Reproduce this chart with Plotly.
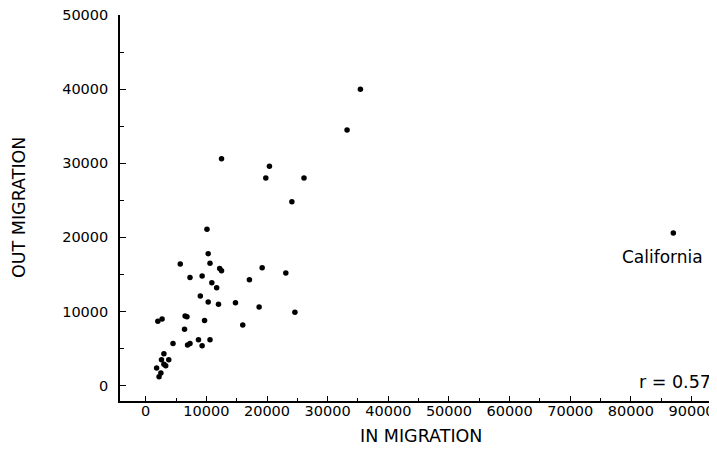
import plotly.graph_objects as go

# Data (IN MIGRATION, OUT MIGRATION)
in_migration = [35400, 33200, 12500, 20400, 19800, 26100, 24100, 10100, 10300, 5700,
                10600, 12200, 12500, 19200, 23100, 7300, 9300, 17100, 10900, 11700,
                9000, 10300, 12000, 14800, 18700, 24600, 2000, 2700, 6500, 6800,
                9700, 16000, 6400, 4500, 6900, 7300, 8700, 10600, 9300, 3000,
                2600, 3800, 3000, 3300, 1800, 2500, 2200]
out_migration = [40000, 34500, 30600, 29600, 28000, 28000, 24800, 21100, 17800, 16400,
                 16500, 15800, 15500, 15900, 15200, 14600, 14800, 14300, 13900, 13200,
                 12100, 11300, 11000, 11200, 10600, 9900, 8700, 9000, 9400, 9300,
                 8800, 8200, 7600, 5700, 5500, 5700, 6200, 6200, 5400, 4300,
                 3500, 3500, 2900, 2700, 2400, 1700, 1200]
ca_in = [87000]
ca_out = [20600]
ca_label = "California"
r_text = "r = 0.57"

x_ticks = [0, 10000, 20000, 30000, 40000, 50000, 60000, 70000, 80000, 90000]
x_tick_labels = ["0", "10000", "20000", "30000", "40000", "50000",
                 "60000", "70000", "80000", "90000"]
y_ticks = [0, 10000, 20000, 30000, 40000, 50000]
y_tick_labels = ["0", "10000", "20000", "30000", "40000", "50000"]

FONT = "DejaVu Sans"

fig = go.Figure()
fig.add_trace(go.Scatter(x=in_migration + ca_in, y=out_migration + ca_out,
                         mode="markers",
                         marker=dict(color="black", size=5.5),
                         showlegend=False))

fig.add_annotation(x=ca_in[0], y=ca_out[0], text=ca_label, showarrow=False,
                   xanchor="center", yanchor="top", xshift=-11, yshift=-12,
                   font=dict(family=FONT, size=17, color="black"))
fig.add_annotation(x=1, y=0, xref="paper", yref="paper", text=r_text,
                   showarrow=False, xanchor="right", yanchor="bottom",
                   xshift=-4, yshift=7,
                   font=dict(family=FONT, size=17.5, color="black"))

# axis titles
fig.add_annotation(x=0.505, y=0, xref="paper", yref="paper", text="IN MIGRATION",
                   showarrow=False, xanchor="center", yanchor="middle",
                   yshift=-35, font=dict(family=FONT, size=17.5, color="black"))
fig.add_annotation(x=0, y=0.5, xref="paper", yref="paper", text="OUT MIGRATION",
                   showarrow=False, xanchor="center", yanchor="middle", textangle=-90,
                   xshift=-101, yshift=0, font=dict(family=FONT, size=17.5, color="black"))

axis_common = dict(showgrid=False, zeroline=False, showline=True, linecolor="black",
                   linewidth=1.6, ticks="inside", tickcolor="black", tickwidth=1.3,
                   automargin=False, ticklabeloverflow="allow",
                   tickfont=dict(family=FONT, size=14.5, color="black"))

fig.update_xaxes(range=[-4240, 94200], tickvals=x_ticks, ticktext=x_tick_labels,
                 ticklen=5, ticklabelstandoff=-4,
                 minor=dict(tickvals=[v + 5000 for v in x_ticks[:-1]],
                            ticks="inside", ticklen=3, tickcolor="black", tickwidth=1),
                 **axis_common)
fig.update_yaxes(range=[-2065, 50000], tickvals=y_ticks, ticktext=y_tick_labels,
                 ticklen=6, ticklabelstandoff=7,
                 minor=dict(tickvals=[v + 5000 for v in y_ticks[:-1]],
                            ticks="inside", ticklen=4, tickcolor="black", tickwidth=1),
                 **axis_common)

# the page adds an 8px body margin, so the figure is sized to fill the rest
fig.update_layout(width=709, height=452,
                  margin=dict(l=112, r=0, t=7, b=59),
                  plot_bgcolor="white", paper_bgcolor="white",
                  font=dict(family=FONT, color="black"))

fig.write_html("out.html")
